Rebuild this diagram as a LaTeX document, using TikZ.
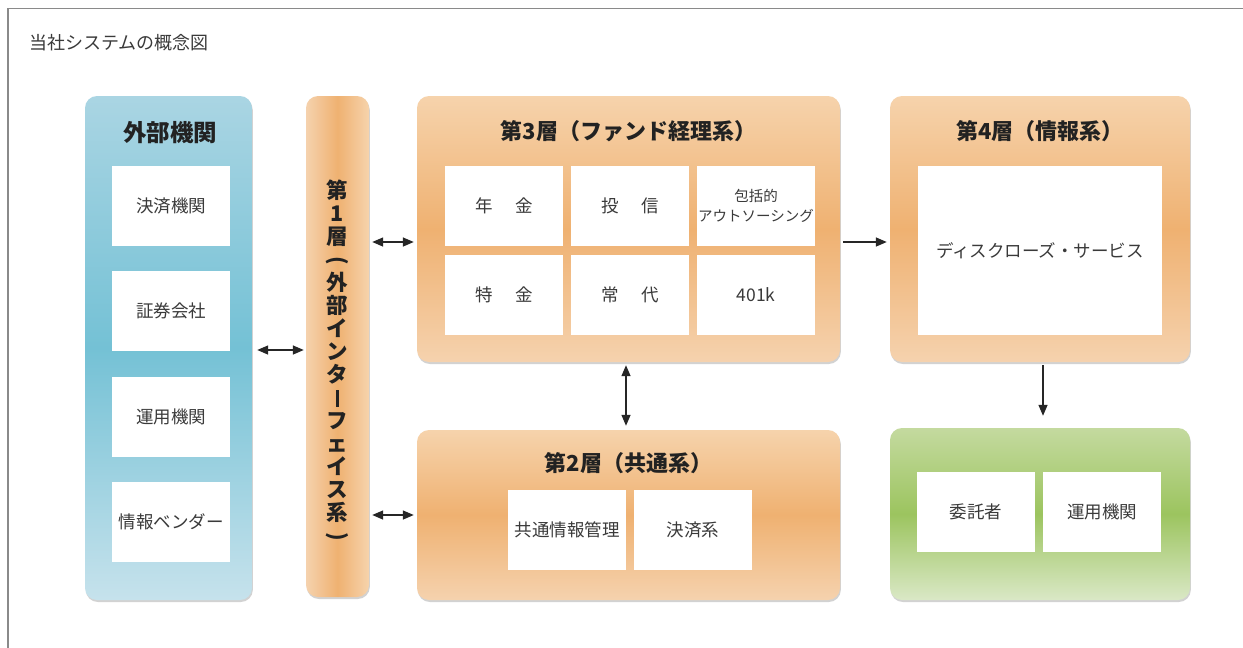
\documentclass[tikz,border=0pt]{standalone}
\usepackage{fontspec}
\usepackage{graphicx}
\setmainfont{Noto Sans CJK JP}
\usetikzlibrary{arrows.meta,shadows,calc}
\definecolor{frame}{HTML}{8A8A8A}
\definecolor{txt}{HTML}{3A3A3A}
\definecolor{ttl}{HTML}{222222}
\definecolor{orT}{HTML}{F6D3AC}
\definecolor{orM}{HTML}{EFB171}
\definecolor{orB}{HTML}{F5D2AE}
\definecolor{blT}{HTML}{AAD5E3}
\definecolor{blM}{HTML}{74C1D5}
\definecolor{blB}{HTML}{C6E2EC}
\definecolor{grT}{HTML}{C4DA9F}
\definecolor{grM}{HTML}{9CC45F}
\definecolor{grB}{HTML}{DAE8C6}
\tikzset{
  panel/.style={rounded corners=12pt, draw=none,
    drop shadow={opacity=0.35, shadow xshift=0.8pt, shadow yshift=-2pt}},
  orangebox/.style={panel, top color=orT, bottom color=orB, middle color=orM},
  bluebox/.style={panel, top color=blT, bottom color=blB, middle color=blM},
  greenbox/.style={panel, top color=grT, bottom color=grB, middle color=grM},
  colbox/.style={panel, left color=orB, right color=orT, middle color=orM},
  cell/.style={fill=white, draw=none, minimum width=118pt, minimum height=80pt,
    inner sep=0pt, text=txt, font=\fontsize{17.5}{21}\selectfont, align=center},
  ttlnode/.style={text=ttl, font=\bfseries\fontsize{22}{26}\selectfont, inner sep=0pt},
  conn/.style={line width=1.4pt, draw=black!85},
  dbl/.style={conn, {Triangle[length=11pt,width=9pt]}-{Triangle[length=11pt,width=9pt]}},
  sgl/.style={conn, -{Triangle[length=11pt,width=9pt]}},
}
\newcommand{\vparen}[1]{\rotatebox[origin=c]{-90}{#1}}
\begin{document}
\begin{tikzpicture}[x=1pt,y=-1pt]
\useasboundingbox (0,0) rectangle (1243,648);
\fill[white] (0,0) rectangle (1243,648);
\draw[frame, line width=1.5pt] (8,648) -- (8,8.5) -- (1243,8.5);
\node[anchor=west, text=txt, font=\fontsize{18}{22}\selectfont, inner sep=0pt] (maintitle) at (29,43) {当社システムの概念図};

% external
\node[bluebox, minimum width=167pt, minimum height=504pt] (ext) at (168.5,348) {};
\node[ttlnode, font=\bfseries\fontsize{23.5}{26}\selectfont] (extt) at (170,133) {外部機関};
\node[cell] (e1) at (171,205.5) {決済機関};
\node[cell] (e2) at (171,310.5) {証券会社};
\node[cell] (e3) at (171,416.5) {運用機関};
\node[cell] (e4) at (171,522) {情報ベンダー};

% layer 1
\node[colbox, minimum width=63pt, minimum height=501pt] (l1) at (337.5,346.5) {};
\node[text=ttl, font=\bfseries\fontsize{21.5}{23}\selectfont, align=center, inner sep=0pt] (l1t) at (337.5,362)
  {第\\1\\層\\\vparen{(}\\外\\部\\イ\\ン\\タ\\\raisebox{-1pt}{\rule{2.6pt}{17pt}}\\フ\\ェ\\イ\\ス\\系\\\vparen{)}};

% layer 3
\node[orangebox, minimum width=423pt, minimum height=266pt] (l3) at (628.5,229) {};
\node[ttlnode] (l3t) at (628.5,131) {第3層（ファンド経理系）};
\node[cell] (c11) at (504,206) {年\hspace{1.3em}金};
\node[cell] (c12) at (630,206) {投\hspace{1.3em}信};
\node[cell, font=\fontsize{14.5}{20}\selectfont] (c13) at (756,206) {包括的\\アウトソーシング};
\node[cell] (c21) at (504,295) {特\hspace{1.3em}金};
\node[cell] (c22) at (630,295) {常\hspace{1.3em}代};
\node[cell] (c23) at (756,295) {401k};

% layer 4
\node[orangebox, minimum width=300pt, minimum height=266pt] (l4) at (1040,229) {};
\node[ttlnode] (l4t) at (1040,131) {第4層（情報系）};
\node[cell, minimum width=244pt, minimum height=169pt] (disc) at (1040,250.5) {ディスクローズ・サービス};

% layer 2
\node[orangebox, minimum width=423pt, minimum height=170pt] (l2) at (628.5,515) {};
\node[ttlnode] (l2t) at (628.5,463) {第2層（共通系）};
\node[cell] (k1) at (567,530) {共通情報管理};
\node[cell] (k2) at (693,530) {決済系};

% green
\node[greenbox, minimum width=300pt, minimum height=172pt] (gr) at (1040,514) {};
\node[cell] (g1) at (976,512) {委託者};
\node[cell] (g2) at (1102,512) {運用機関};

% connectors
\draw[dbl, shorten <=5pt, shorten >=2pt] (ext.east |- 0,350) coordinate (a1) -- (l1.west |- a1);
\draw[dbl, shorten <=3pt, shorten >=3pt] ([yshift=-13pt]l1.east |- l3.west) -- ([yshift=-13pt]l3.west);
\draw[dbl, shorten <=3pt, shorten >=3pt] (l1.east |- l2.west) -- (l2.west);
\draw[sgl, shorten <=3pt, shorten >=3pt] ([yshift=-13pt]l3.east) -- ([yshift=-13pt]l4.west);
\draw[dbl, shorten <=3pt, shorten >=4pt] ([xshift=-2.5pt]l3.south) -- ([xshift=-2.5pt]l2.north);
\draw[sgl, shorten <=3pt, shorten >=12pt] ([xshift=3pt]l4.south) -- ([xshift=3pt]gr.north);
\end{tikzpicture}
\end{document}
